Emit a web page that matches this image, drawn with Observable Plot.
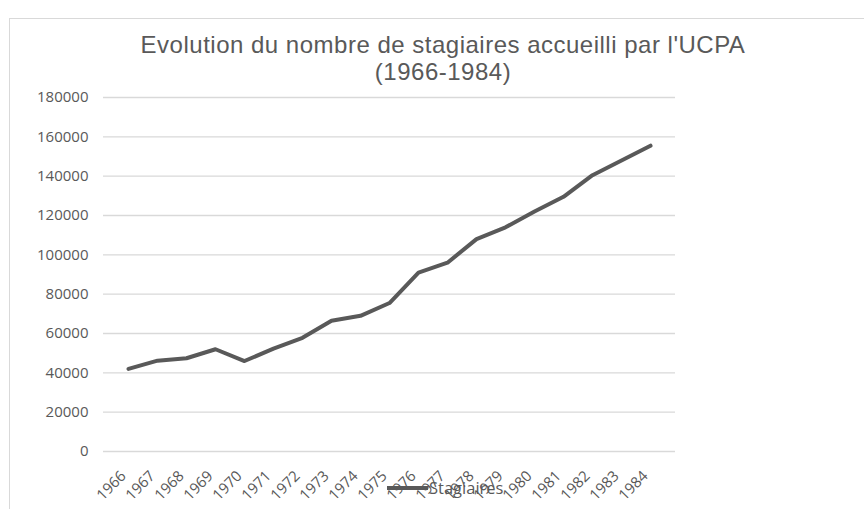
<!DOCTYPE html>
<html>
<head>
<meta charset="utf-8">
<script src="https://cdn.jsdelivr.net/npm/d3@7"></script>
<script src="https://cdn.jsdelivr.net/npm/@observablehq/plot@0.6"></script>
<style>
  html, body { margin: 0; padding: 0; background: #fff; }
  #wrap { position: relative; width: 864px; height: 509px; overflow: hidden; font-family: "Open Sans", sans-serif; color: #595959; }
  #frame { position: absolute; left: 9px; top: 18px; width: 900px; height: 520px; border: 1px solid #d9d9d9; box-sizing: border-box; }
  .title { position: absolute; left: 93px; width: 700px; text-align: center; font-family: "Liberation Sans", Arial, sans-serif; font-size: 24px; letter-spacing: 0.5px; line-height: 25px; color: #595959; white-space: nowrap; }
  #t1 { top: 32px; }
  #t2 { top: 59px; }
  #chart { position: absolute; left: 0; top: 0; }
  #legend { position: absolute; left: 387px; top: 476px; font-size: 16.5px; line-height: 24px; color: #595959; display: flex; align-items: center; }
  #legend .swatch { display: inline-block; width: 41px; height: 4px; background: #595959; margin-right: 1px; }
</style>
</head>
<body>
<div id="wrap">
  <div id="frame"></div>
  <div id="chart"></div>
  <div class="title" id="t1">Evolution du nombre de stagiaires accueilli par l'UCPA</div>
  <div class="title" id="t2">(1966-1984)</div>
  <div id="legend"><span class="swatch"></span><span>Stagiaires</span></div>
</div>
<script>
const years = ["1966","1967","1968","1969","1970","1971","1972","1973","1974","1975","1976","1977","1978","1979","1980","1981","1982","1983","1984"];
const stagiaires = [42000, 46200, 47400, 52000, 46000, 52300, 57800, 66500, 69000, 75500, 91000, 96000, 108000, 114000, 122000, 129500, 140500, 148000, 155500];
const yTicks = [0, 20000, 40000, 60000, 80000, 100000, 120000, 140000, 160000, 180000];

const data = years.map((y, i) => ({year: y, value: stagiaires[i]}));

const chart = Plot.plot({
  width: 864,
  height: 509,
  marginLeft: 103,
  marginRight: 189,
  marginTop: 97,
  marginBottom: 58,
  style: {fontFamily: "'Open Sans', sans-serif", fontSize: "15px", color: "#595959", background: "transparent", overflow: "visible"},
  x: {type: "point", domain: years, padding: 0.6, label: null},
  y: {domain: [0, 180000], label: null},
  marks: [
    Plot.ruleY(yTicks, {stroke: "#d9d9d9", strokeWidth: 1.3}),
    Plot.axisY({ticks: yTicks, tickFormat: d => String(d), tickSize: 0, tickPadding: 15, label: null}),
    Plot.axisX({tickRotate: -45, tickSize: 0, tickPadding: 4, dx: -5, dy: 18, label: null}),
    Plot.lineY(data, {x: "year", y: "value", stroke: "#595959", strokeWidth: 4, strokeLinejoin: "round", strokeLinecap: "round"})
  ]
});
document.getElementById("chart").appendChild(chart);
</script>
</body>
</html>
